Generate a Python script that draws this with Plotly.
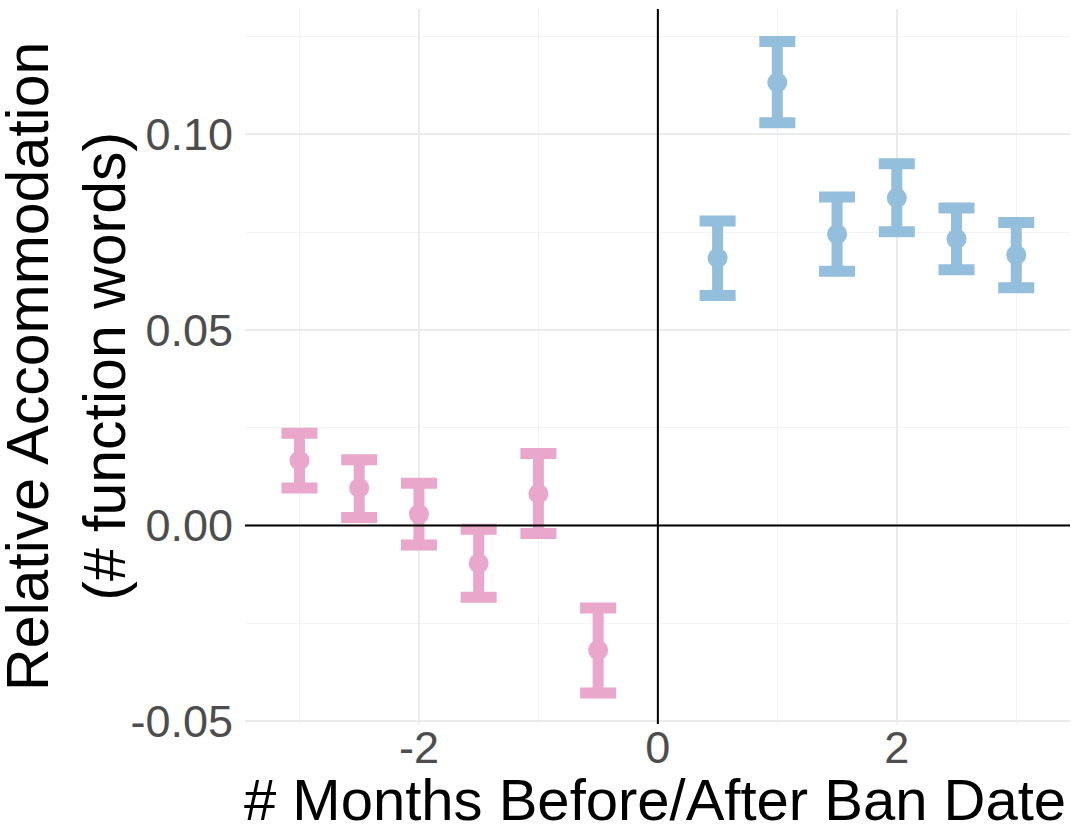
import plotly.graph_objects as go

# Data
months_before = [-3.0, -2.5, -2.0, -1.5, -1.0, -0.5]
acc_before = [0.0166, 0.0096, 0.0029, -0.0097, 0.0081, -0.0319]
upper_before = [0.0236, 0.0168, 0.0108, -0.0010, 0.0184, -0.0211]
lower_before = [0.0096, 0.0020, -0.0050, -0.0184, -0.0021, -0.0429]

months_after = [0.5, 1.0, 1.5, 2.0, 2.5, 3.0]
acc_after = [0.0684, 0.1133, 0.0745, 0.0838, 0.0733, 0.0692]
upper_after = [0.0779, 0.1238, 0.0840, 0.0925, 0.0812, 0.0775]
lower_after = [0.0588, 0.1030, 0.0650, 0.0751, 0.0654, 0.0608]

x_tickvals = [-2, 0, 2]
x_ticktext = ["-2", "0", "2"]
y_tickvals = [-0.05, 0.0, 0.05, 0.10]
y_ticktext = ["-0.05", "0.00", "0.05", "0.10"]

x_title = "# Months Before/After Ban Date"
y_title = "Relative Accommodation<br>(# function words)"

PINK = "#E8A7CB"
BLUE = "#93BEDC"
FONT = "Liberation Sans, Arial, sans-serif"

def trace(x, y, up, lo, color):
    return go.Scatter(
        x=x, y=y, mode="markers",
        marker=dict(size=20, color=color),
        error_y=dict(
            type="data", symmetric=False,
            array=[u - v for u, v in zip(up, y)],
            arrayminus=[v - l for v, l in zip(y, lo)],
            color=color, thickness=11, width=18,
        ),
        showlegend=False, hoverinfo="skip",
    )

fig = go.Figure()
fig.add_trace(trace(months_before, acc_before, upper_before, lower_before, PINK))
fig.add_trace(trace(months_after, acc_after, upper_after, lower_after, BLUE))

fig.add_shape(type="line", xref="x", yref="paper", x0=0, x1=0, y0=0, y1=1,
              line=dict(color="black", width=2), layer="above")
fig.add_shape(type="line", xref="paper", yref="y", x0=0, x1=1, y0=0, y1=0,
              line=dict(color="black", width=2), layer="above")

# axis titles as annotations for precise placement
fig.add_annotation(text=y_title, xref="paper", yref="paper", x=-0.2164, y=0.5,
                   xanchor="center", yanchor="middle", textangle=-90, showarrow=False,
                   font=dict(size=59, color="black", family=FONT))
fig.add_annotation(text=x_title, xref="paper", yref="paper", x=0.497, y=-0.1049,
                   xanchor="center", yanchor="middle", showarrow=False,
                   font=dict(size=58, color="black", family=FONT))

fig.update_layout(
    width=1080, height=840,
    margin=dict(l=245, r=10, t=9, b=116),
    plot_bgcolor="white", paper_bgcolor="white",
    font=dict(family=FONT),
    xaxis=dict(
        range=[-3.456, 3.45],
        tickmode="array", tickvals=x_tickvals, ticktext=x_ticktext,
        tickfont=dict(size=45, color="#4D4D4D", family=FONT),
        showgrid=True, gridcolor="#EBEBEB", gridwidth=2,
        minor=dict(dtick=1, tick0=0, showgrid=True, gridcolor="#F3F3F3", gridwidth=1),
        zeroline=False, showline=False, ticks="",
        ticklabelstandoff=-7,
        automargin=False,
    ),
    yaxis=dict(
        range=[-0.0508, 0.1321],
        tickmode="array", tickvals=y_tickvals, ticktext=y_ticktext,
        tickfont=dict(size=45, color="#4D4D4D", family=FONT),
        showgrid=True, gridcolor="#EBEBEB", gridwidth=2,
        minor=dict(dtick=0.025, tick0=0, showgrid=True, gridcolor="#F3F3F3", gridwidth=1),
        zeroline=False, showline=False, ticks="",
        ticklabelstandoff=11,
        automargin=False,
    ),
)

fig.write_html("out.html", config={"displayModeBar": False},
               post_script="document.body.style.margin='0';document.body.style.overflow='hidden';")
